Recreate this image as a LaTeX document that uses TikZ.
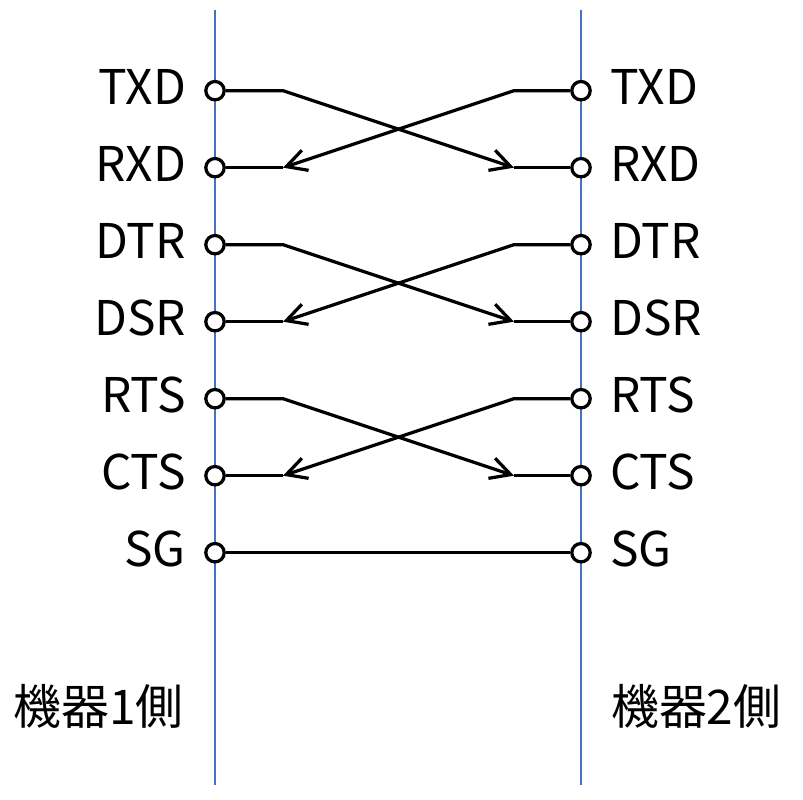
\documentclass[tikz,border=0pt]{standalone}
\usepackage{fontspec}
\setmainfont{Noto Sans CJK JP}
\usetikzlibrary{positioning,arrows.meta}
\definecolor{rail}{HTML}{4472C4}

\begin{document}
\begin{tikzpicture}[x=0.025cm,y=-0.025cm,
    pin/.style={circle,draw=black,fill=white,line width=2.3pt,inner sep=0pt,minimum size=0.46cm},
    wire/.style={black,line width=2.3pt},
    sig/.style={inner sep=0pt,font=\fontsize{34}{40}\selectfont},
    tip/.style={-{Straight Barb[length=0.5cm,width=0.53cm]}}]
      \useasboundingbox (0,0) rectangle (803,800);
      \draw[rail,line width=0.75pt] (215,10) -- (215,785);
      \draw[rail,line width=0.75pt] (581,10) -- (581,785);
      % left side
      \node[pin] (l1) at (215,90.7) {};
      \node[pin] (l2) at (215,167.7) {};
      \node[pin] (l3) at (215,244.7) {};
      \node[pin] (l4) at (215,321.7) {};
      \node[pin] (l5) at (215,398.7) {};
      \node[pin] (l6) at (215,475.7) {};
      \node[pin] (l7) at (215,552.7) {};
      \node[sig,left=0.45cm of l1,yshift=2.5pt] (tl1) {TXD};
      \node[sig,left=0.45cm of l2,yshift=2.5pt] (tl2) {RXD};
      \node[sig,left=0.45cm of l3,yshift=2.5pt] (tl3) {DTR};
      \node[sig,left=0.45cm of l4,yshift=2.5pt] (tl4) {DSR};
      \node[sig,left=0.45cm of l5,yshift=2.5pt] (tl5) {RTS};
      \node[sig,left=0.45cm of l6,yshift=2.5pt] (tl6) {CTS};
      \node[sig,left=0.45cm of l7,yshift=2.5pt] (tl7) {SG};
      % right side
      \node[pin] (r1) at (581,90.7) {};
      \node[pin] (r2) at (581,167.7) {};
      \node[pin] (r3) at (581,244.7) {};
      \node[pin] (r4) at (581,321.7) {};
      \node[pin] (r5) at (581,398.7) {};
      \node[pin] (r6) at (581,475.7) {};
      \node[pin] (r7) at (581,552.7) {};
      \node[sig,right=0.45cm of r1,yshift=2.5pt] (tr1) {TXD};
      \node[sig,right=0.45cm of r2,yshift=2.5pt] (tr2) {RXD};
      \node[sig,right=0.45cm of r3,yshift=2.5pt] (tr3) {DTR};
      \node[sig,right=0.45cm of r4,yshift=2.5pt] (tr4) {DSR};
      \node[sig,right=0.45cm of r5,yshift=2.5pt] (tr5) {RTS};
      \node[sig,right=0.45cm of r6,yshift=2.5pt] (tr6) {CTS};
      \node[sig,right=0.45cm of r7,yshift=2.5pt] (tr7) {SG};
      % bends of the wires
      \coordinate (a1) at (283,90.7);
      \coordinate (a2) at (283,167.7);
      \coordinate (a3) at (283,244.7);
      \coordinate (a4) at (283,321.7);
      \coordinate (a5) at (283,398.7);
      \coordinate (a6) at (283,475.7);
      \coordinate (b1) at (514,90.7);
      \coordinate (b2) at (514,167.7);
      \coordinate (b3) at (514,244.7);
      \coordinate (b4) at (514,321.7);
      \coordinate (b5) at (514,398.7);
      \coordinate (b6) at (514,475.7);
      % crossed pairs
      \draw[wire,tip] (l1) -- (a1) -- (b2);
      \draw[wire] (b2) -- (r2);
      \draw[wire,tip] (r1) -- (b1) -- (a2);
      \draw[wire] (a2) -- (l2);
      \draw[wire,tip] (l3) -- (a3) -- (b4);
      \draw[wire] (b4) -- (r4);
      \draw[wire,tip] (r3) -- (b3) -- (a4);
      \draw[wire] (a4) -- (l4);
      \draw[wire,tip] (l5) -- (a5) -- (b6);
      \draw[wire] (b6) -- (r6);
      \draw[wire,tip] (r5) -- (b5) -- (a6);
      \draw[wire] (a6) -- (l6);
      \draw[wire] (l7) -- (r7);
      \node[sig,anchor=east] (dev1) at (184,706) {機器1側};
      \node[sig,anchor=west] (dev2) at (611,706) {機器2側};
    \end{tikzpicture}
\end{document}
